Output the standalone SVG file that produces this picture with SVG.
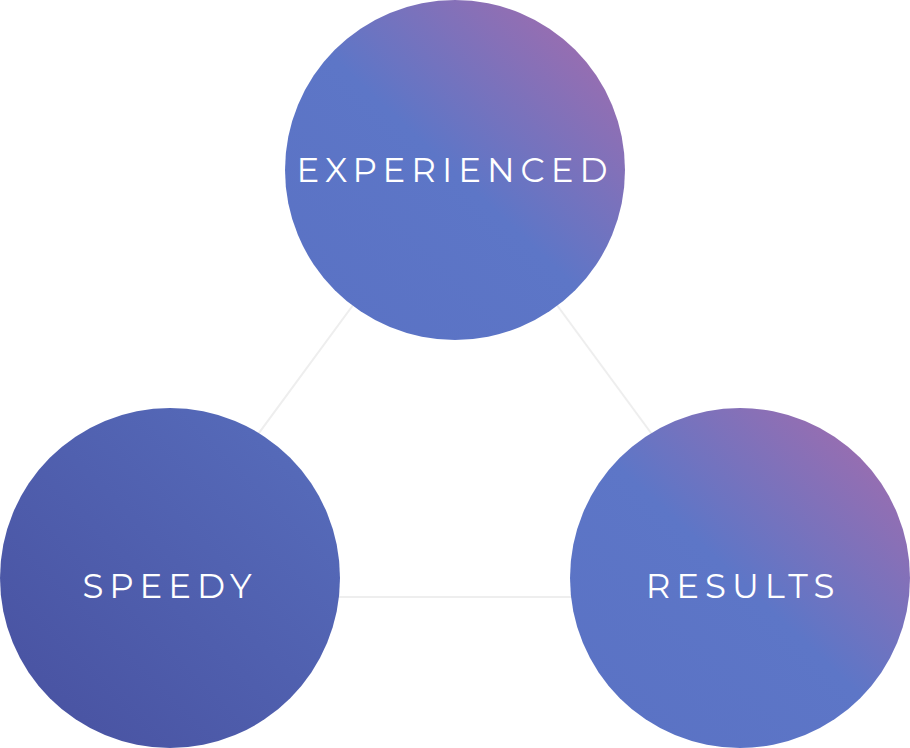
<svg xmlns="http://www.w3.org/2000/svg" width="910" height="748" viewBox="0 0 910 748">
<style>
.lbl{font-family:Montserrat,"Open Sans","Liberation Sans",sans-serif;font-size:34px;fill:#ffffff;letter-spacing:6px;text-anchor:middle}
.conn{stroke:#eeeeee;stroke-width:2;fill:none}
</style>
<defs>
<linearGradient id="gPurple" x1="0.95" y1="0.05" x2="0.1" y2="0.95">
<stop offset="0" stop-color="#a46cac"/>
<stop offset="0.52" stop-color="#5d76c7"/>
<stop offset="1" stop-color="#5a72c4"/>
</linearGradient>
<linearGradient id="gBlue" x1="0.9" y1="0.1" x2="0.1" y2="0.9">
<stop offset="0" stop-color="#566bba"/>
<stop offset="1" stop-color="#4953a2"/>
</linearGradient>
</defs>
<g id="connectors">
<line class="conn" x1="370" y1="282" x2="245" y2="452"/>
<line class="conn" x1="540" y1="282" x2="665" y2="452"/>
<line class="conn" x1="320" y1="597" x2="590" y2="597"/>
</g>
<g id="experienced">
<circle cx="455" cy="170" r="170" fill="url(#gPurple)"/>
<text class="lbl" x="455" y="182">EXPERIENCED</text>
</g>
<g id="speedy">
<circle cx="170" cy="578" r="170" fill="url(#gBlue)"/>
<text class="lbl" x="170" y="598">SPEEDY</text>
</g>
<g id="results">
<circle cx="740" cy="578" r="170" fill="url(#gPurple)"/>
<text class="lbl" x="743" y="598">RESULTS</text>
</g>
</svg>
